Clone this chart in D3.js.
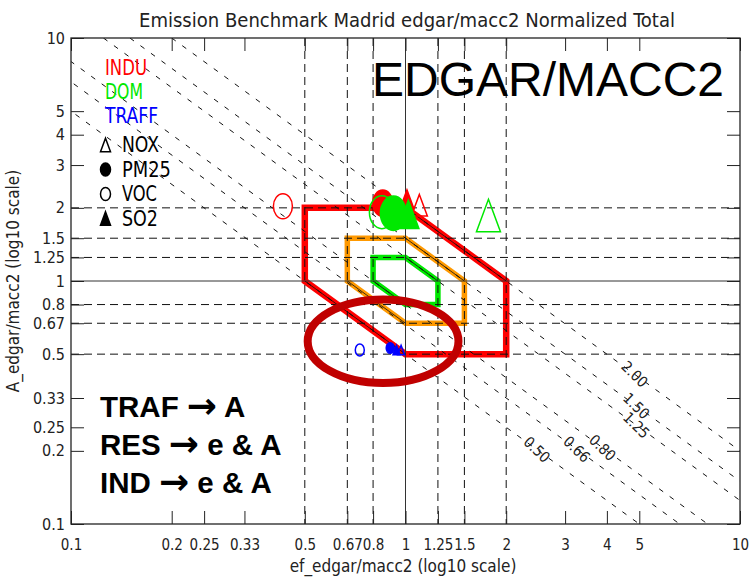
<!DOCTYPE html>
<html>
<head>
<meta charset="utf-8">
<script src="https://cdn.jsdelivr.net/npm/d3@7"></script>
<style>
  body { margin: 0; background: #fff; }
  .hershey { font-family: "Liberation Sans Narrow", "DejaVu Sans Condensed", "DejaVu Sans", sans-serif; }
</style>
</head>
<body>
<div id="chart-area"></div>
<script>
// Data ---------------------------------------------------
const tickValues = [0.1, 0.2, 0.25, 0.33, 0.5, 0.67, 0.8, 1, 1.25, 1.5, 2, 3, 4, 5, 10]
const tickLabels = ["0.1", "0.2", "0.25", "0.33", "0.5", "0.67", "0.8", "1", "1.25", "1.5", "2", "3", "4", "5", "10"]
const gridDashed = [0.5, 0.67, 0.8, 1.25, 1.5, 2]
const gridSolid = [1]

// iso lines ef * A = c
const isoValues = [0.5, 0.66, 0.8, 1.25, 1.5, 2.0]
const isoLabels = ["0.50", "0.66", "0.80", "1.25", "1.50", "2.00"]
const isoLabelEf = [2.47, 3.25, 3.88, 4.9, 4.9, 4.84]

// benchmark boxes [lo, hi] (red, orange, green)
const boxRanges = [[0.5, 2], [0.67, 1.5], [0.8, 1.25]]

// highlighted region (ef range, A range)
const ellipseEf = [0.51, 1.44]
const ellipseA = [0.38, 0.84]

const sectors = ["INDU", "DOM", "TRAFF"]
const species = ["NOX", "PM25", "VOC", "SO2"]

const efINDU = [1.10, 0.855, 0.43, 1.01]
const aINDU = [2.05, 2.09, 2.03, 2.17]
const symINDU = [1.6, 2.0, 1.9, 1.4]

const efDOM = [1.77, 0.92, 0.85, 1.02]
const aDOM = [1.86, 1.90, 1.92, 1.88]
const symDOM = [2.4, 2.6, 2.5, 2.1]

const efTRAFF = [0.97, 0.90, 0.73, 0.94]
const aTRAFF = [0.52, 0.53, 0.52, 0.52]
const symTRAFF = [0.7, 0.8, 0.9, 0.7]

const notesLeft = ["TRAF", "RES", "IND"]
const notesRight = ["A", "e & A", "e & A"]

// Canvas setup -------------------------------------------
const W = 750, H = 584
const PLOT = {LEFT: 71, RIGHT: 740, TOP: 38, BOTTOM: 524}
const COLORS = {INDU: "#ff0000", DOM: "#00e800", TRAFF: "#0000ff"}
const BOX_COLORS = ["#ff0000", "#ff9900", "#00e800"]

const svg = d3.select("#chart-area").append("svg")
  .attr("width", W)
  .attr("height", H)
  .style("background", "#fff")

// Scales -------------------------------------------------
const x = d3.scaleLog().domain([0.1, 10]).range([PLOT.LEFT, PLOT.RIGHT])
const y = d3.scaleLog().domain([0.1, 10]).range([PLOT.BOTTOM, PLOT.TOP])

svg.append("clipPath").attr("id", "plot-clip")
  .append("rect")
    .attr("x", PLOT.LEFT).attr("y", PLOT.TOP)
    .attr("width", PLOT.RIGHT - PLOT.LEFT)
    .attr("height", PLOT.BOTTOM - PLOT.TOP)

const plot = svg.append("g").attr("clip-path", "url(#plot-clip)")

// Boxes --------------------------------------------------
const boxLine = d3.line().x(d => x(d[0])).y(d => y(d[1]))
const boxPoints = r => [[r[0], r[1]], [1, r[1]], [r[1], 1], [r[1], r[0]], [1, r[0]], [r[0], 1]]

boxRanges.forEach((r, i) => {
  plot.append("path")
    .attr("d", boxLine(boxPoints(r)) + "Z")
    .attr("fill", "none")
    .attr("stroke", BOX_COLORS[i])
    .attr("stroke-width", i === 0 ? 6.5 : 5.5)
    .attr("stroke-linejoin", "miter")
})

// Grid ---------------------------------------------------
gridDashed.forEach(v => {
  plot.append("line")
    .attr("x1", x(v)).attr("x2", x(v))
    .attr("y1", PLOT.TOP).attr("y2", PLOT.BOTTOM)
    .attr("stroke", "#111").attr("stroke-width", 1)
    .attr("stroke-dasharray", "8,5")
  plot.append("line")
    .attr("x1", PLOT.LEFT).attr("x2", PLOT.RIGHT)
    .attr("y1", y(v)).attr("y2", y(v))
    .attr("stroke", "#111").attr("stroke-width", 1)
    .attr("stroke-dasharray", "8,5")
})
gridSolid.forEach(v => {
  plot.append("line")
    .attr("x1", x(v)).attr("x2", x(v))
    .attr("y1", PLOT.TOP).attr("y2", PLOT.BOTTOM)
    .attr("stroke", "#333").attr("stroke-width", 1)
  plot.append("line")
    .attr("x1", PLOT.LEFT).attr("x2", PLOT.RIGHT)
    .attr("y1", y(v)).attr("y2", y(v))
    .attr("stroke", "#333").attr("stroke-width", 1)
})

// iso lines
isoValues.forEach((c, i) => {
  const e0 = c / 10, e1 = 10
  plot.append("path")
    .attr("d", boxLine([[e0, c / e0], [e1, c / e1]]))
    .attr("fill", "none")
    .attr("stroke", "#111").attr("stroke-width", 1)
    .attr("stroke-dasharray", "5,8")
  const le = isoLabelEf[i]
  svg.append("text")
    .attr("class", "hershey")
    .attr("transform", `translate(${x(le)},${y(c / le)}) rotate(44)`)
    .attr("text-anchor", "middle")
    .attr("dy", "0.35em")
    .attr("font-size", 15)
    .attr("fill", "#222")
    .text(isoLabels[i])
})

// thin line along the diagonal box edges
boxRanges.forEach(r => {
  [[[1, r[1]], [r[1], 1]], [[r[0], 1], [1, r[0]]]].forEach(seg => {
    plot.append("path")
      .attr("d", boxLine(seg))
      .attr("stroke", "#111").attr("stroke-width", 0.8).attr("fill", "none")
  })
})

// Axes ---------------------------------------------------
const fmt = (d, i) => tickLabels[i]
const gx = svg.append("g").attr("transform", `translate(0,${PLOT.BOTTOM})`)
  .call(d3.axisBottom(x).tickValues(tickValues).tickFormat(fmt).tickSizeInner(-13).tickSizeOuter(0).tickPadding(15))
const gxt = svg.append("g").attr("transform", `translate(0,${PLOT.TOP})`)
  .call(d3.axisTop(x).tickValues(tickValues).tickFormat("").tickSizeInner(-13).tickSizeOuter(0))
const gy = svg.append("g").attr("transform", `translate(${PLOT.LEFT},0)`)
  .call(d3.axisLeft(y).tickValues(tickValues).tickFormat(fmt).tickSizeInner(-13).tickSizeOuter(0).tickPadding(6))
const gyr = svg.append("g").attr("transform", `translate(${PLOT.RIGHT},0)`)
  .call(d3.axisRight(y).tickValues(tickValues).tickFormat("").tickSizeInner(-13).tickSizeOuter(0))

;[gx, gxt, gy, gyr].forEach(g => {
  g.select(".domain").remove()
  g.selectAll(".tick line").attr("stroke", "#222")
  g.selectAll("text")
    .attr("class", "hershey")
    .attr("font-size", 16)
    .attr("fill", "#222")
})
gx.selectAll("text").attr("font-size", 15)

svg.append("rect")
  .attr("x", PLOT.LEFT).attr("y", PLOT.TOP)
  .attr("width", PLOT.RIGHT - PLOT.LEFT)
  .attr("height", PLOT.BOTTOM - PLOT.TOP)
  .attr("fill", "none").attr("stroke", "#222").attr("stroke-width", 1.3)

// Labels -------------------------------------------------
svg.append("text")
  .attr("class", "hershey")
  .attr("x", 407).attr("y", 27)
  .attr("text-anchor", "middle")
  .attr("font-size", 20)
  .attr("fill", "#222")
  .attr("textLength", 536).attr("lengthAdjust", "spacingAndGlyphs")
  .text("Emission Benchmark Madrid edgar/macc2 Normalized Total")

svg.append("text")
  .attr("class", "hershey")
  .attr("x", 403).attr("y", 572)
  .attr("text-anchor", "middle")
  .attr("font-size", 17)
  .attr("fill", "#222")
  .text("ef_edgar/macc2 (log10 scale)")

svg.append("text")
  .attr("class", "hershey")
  .attr("transform", `translate(19,${y(1)}) rotate(-90)`)
  .attr("text-anchor", "middle")
  .attr("font-size", 17)
  .attr("fill", "#222")
  .text("A_edgar/macc2 (log10 scale)")

// Markers ------------------------------------------------
const markerType = {NOX: "triOpen", PM25: "circFill", VOC: "circOpen", SO2: "triFill"}

function drawMarker(g, type, cx, cy, s, color) {
  if (type === "circFill" || type === "circOpen") {
    g.append("ellipse")
      .attr("cx", cx).attr("cy", cy)
      .attr("rx", 5 * s).attr("ry", 6.6 * s)
      .attr("fill", type === "circFill" ? color : "none")
      .attr("stroke", color).attr("stroke-width", 1.5)
  } else {
    const w = 10 * s, h = 13.5 * s
    g.append("path")
      .attr("d", `M${cx},${cy - h / 2}L${cx + w / 2},${cy + h / 2}L${cx - w / 2},${cy + h / 2}Z`)
      .attr("fill", type === "triFill" ? color : "none")
      .attr("stroke", color).attr("stroke-width", 1.5)
      .attr("stroke-linejoin", "miter")
  }
}

const markers = svg.append("g")
const sectorData = {
  INDU: [efINDU, aINDU, symINDU],
  DOM: [efDOM, aDOM, symDOM],
  TRAFF: [efTRAFF, aTRAFF, symTRAFF]
}
sectors.forEach(sec => {
  const [ef, a, sym] = sectorData[sec]
  species.forEach((sp, i) => {
    drawMarker(markers, markerType[sp], x(ef[i]), y(a[i]), sym[i], COLORS[sec])
  })
})

// Legend -------------------------------------------------
const sectorWidths = [42, 38, 53]
sectors.forEach((sec, i) => {
  svg.append("text")
    .attr("class", "hershey")
    .attr("x", 105).attr("y", 75 + i * 24)
    .attr("font-size", 20.5)
    .attr("fill", COLORS[sec])
    .attr("textLength", sectorWidths[i]).attr("lengthAdjust", "spacingAndGlyphs")
    .text(sec)
})
const speciesWidths = [37, 49, 35, 36]
species.forEach((sp, i) => {
  const yy = 152 + i * 24.5
  drawMarker(svg, markerType[sp], 105.5, yy - 7, 1.0, "#000")
  svg.append("text")
    .attr("class", "hershey")
    .attr("x", 122).attr("y", yy)
    .attr("font-size", 21)
    .attr("fill", "#000")
    .attr("textLength", speciesWidths[i]).attr("lengthAdjust", "spacingAndGlyphs")
    .text(sp)
})

// Overlays -----------------------------------------------
svg.append("ellipse")
  .attr("cx", (x(ellipseEf[0]) + x(ellipseEf[1])) / 2)
  .attr("cy", (y(ellipseA[0]) + y(ellipseA[1])) / 2)
  .attr("rx", (x(ellipseEf[1]) - x(ellipseEf[0])) / 2)
  .attr("ry", (y(ellipseA[0]) - y(ellipseA[1])) / 2)
  .attr("fill", "none")
  .attr("stroke", "#c00000")
  .attr("stroke-width", 8)

svg.append("text")
  .attr("x", 372).attr("y", 96)
  .attr("font-family", "'Liberation Sans', Arial, sans-serif")
  .attr("font-size", 48)
  .attr("fill", "#000")
  .text("EDGAR/MACC2")

notesLeft.forEach((t, i) => {
  const txt = svg.append("text")
    .attr("x", 100).attr("y", 417 + i * 38)
    .attr("font-family", "'Liberation Sans', Arial, sans-serif")
    .attr("font-weight", "bold")
    .attr("font-size", 29.5)
    .attr("fill", "#000")
  txt.append("tspan").text(t + " ")
  txt.append("tspan")
    .attr("font-family", "'DejaVu Sans', sans-serif")
    .attr("font-size", 36)
    .attr("dy", 1)
    .text("\u2192")
  txt.append("tspan").attr("dy", -1).text(" " + notesRight[i])
})
</script>
</body>
</html>
